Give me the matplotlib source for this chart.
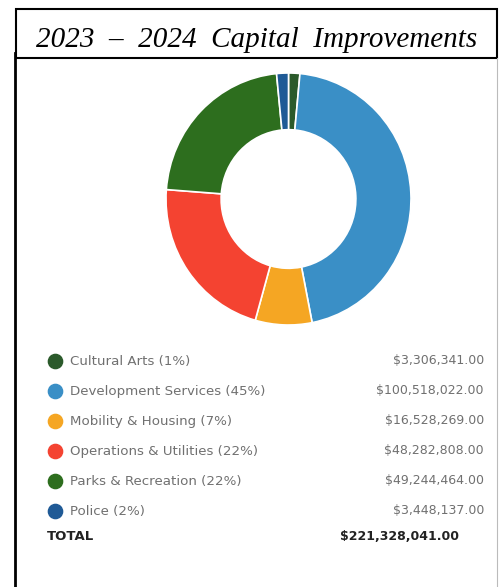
import matplotlib
import matplotlib.pyplot as plt
from matplotlib.patches import Rectangle

matplotlib.use('Agg')

# Данные
categories = ['Cultural Arts', 'Development Services', 'Mobility & Housing',
              'Operations & Utilities', 'Parks & Recreation', 'Police']
percents = [1, 45, 7, 22, 22, 2]
amounts = [3306341.00, 100518022.00, 16528269.00, 48282808.00, 49244464.00, 3448137.00]
colors = ['#2b5a2b', '#3a8fc6', '#f5a623', '#f44331', '#2d6e1e', '#1f5a96']
total = 221328041.00

W, H = 499, 587
fig = plt.figure(figsize=(W / 100, H / 100), dpi=100)

# Фоновая ось в пикселях
bg = fig.add_axes([0, 0, 1, 1])
bg.set_xlim(0, W)
bg.set_ylim(H, 0)
bg.axis('off')

# Рамка заголовка
box = Rectangle((16, 9), 481, 49, fill=False, edgecolor='black', linewidth=1.5)
bg.add_patch(box)
title = bg.text(257, 47, '2023  –  2024  Capital  Improvements', ha='center', va='baseline',
                fontsize=21, family='Liberation Serif', style='italic', color='black')
# нижняя часть букв обрезана, как в оригинале
title.set_clip_path(Rectangle((16, 9), 481, 40.5, transform=bg.transData))

# Границы блока
bg.plot([15, 15], [53, H], color='black', linewidth=2)
bg.plot([497, 497], [58, H], color='#bbbbbb', linewidth=0.8)

# Кольцевая диаграмма
cx, cy, rx, ry = 288.5, 199, 122.5, 126
ax = fig.add_axes([(cx - rx) / W, (H - cy - ry) / H, 2 * rx / W, 2 * ry / H])
ax.pie(amounts, colors=colors, startangle=90, counterclock=False, radius=1,
       wedgeprops=dict(width=0.45, edgecolor='white', linewidth=1.2))
ax.set_xlim(-1, 1)
ax.set_ylim(-1, 1)
ax.set_aspect('auto')
ax.axis('off')

# Легенда
for i, (name, p, amt, c) in enumerate(zip(categories, percents, amounts, colors)):
    y = 361 + i * 30
    bg.scatter(55, y, s=105, color=c, zorder=3)
    bg.text(70, y, f'{name} ({p}%)', va='center', ha='left', fontsize=9.6, color='#707070')
    bg.text(484, y, f'${amt:,.2f}', va='center', ha='right', fontsize=9, color='#707070')

bg.text(47, 536, 'TOTAL', va='center', ha='left', fontsize=9.5, fontweight='bold', color='#222222')
bg.text(459, 536, f'${total:,.2f}', va='center', ha='right', fontsize=9,
        fontweight='bold', color='#222222')

plt.savefig('out.png', dpi=100)
